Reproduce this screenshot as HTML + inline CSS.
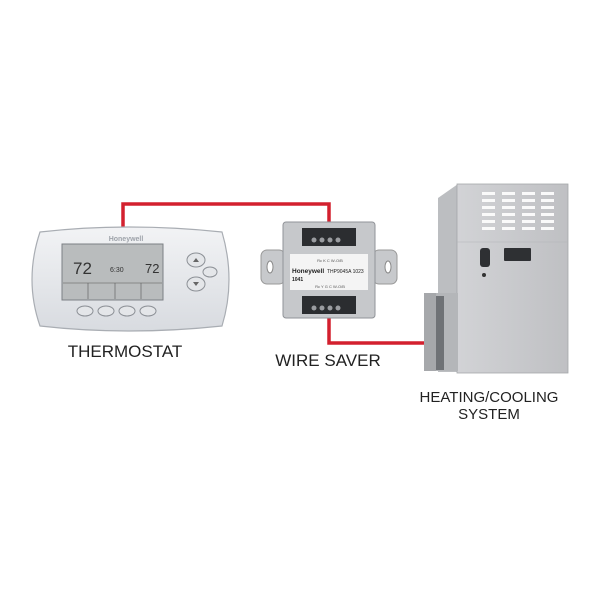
<!DOCTYPE html>
<html><head><style>
body{margin:0;background:#fff;}
svg{display:block}
text{font-family:"Liberation Sans",sans-serif;}
</style></head><body>
<svg width="600" height="600" viewBox="0 0 600 600" xmlns="http://www.w3.org/2000/svg">
<defs>
<linearGradient id="tb" x1="0" y1="0" x2="0" y2="1"><stop offset="0" stop-color="#f2f3f5"/><stop offset="1" stop-color="#d8dbe0"/></linearGradient>
<linearGradient id="fr" x1="0" y1="0" x2="1" y2="0"><stop offset="0" stop-color="#d2d3d6"/><stop offset="1" stop-color="#bfc0c3"/></linearGradient>
</defs>
<polyline points="123,230 123,204 329,204 329,228" fill="none" stroke="#d3202e" stroke-width="3.5"/>
<polyline points="329,316 329,343 436,343" fill="none" stroke="#d3202e" stroke-width="3.5"/>

<path d="M40,232 Q128,222 222,232 Q236,280 222,326 Q128,336 40,326 Q24,280 40,232Z" fill="url(#tb)" stroke="#a9adb3" stroke-width="1.2"/>
<text x="126" y="241" font-size="7" font-weight="bold" fill="#9ea3aa" text-anchor="middle">Honeywell</text>
<rect x="62" y="244" width="101" height="56" fill="#b9bcbd" stroke="#7c8085"/>
<text x="73" y="274" font-size="17" fill="#333">72</text>
<text x="110" y="272" font-size="7" fill="#333">6:30</text>
<text x="145" y="273" font-size="13" fill="#333">72</text>
<line x1="63" y1="283" x2="162" y2="283" stroke="#555" stroke-width="0.6"/>
<line x1="88" y1="283" x2="88" y2="299" stroke="#555" stroke-width="0.6"/>
<line x1="115" y1="283" x2="115" y2="299" stroke="#555" stroke-width="0.6"/>
<line x1="141" y1="283" x2="141" y2="299" stroke="#555" stroke-width="0.6"/>
<g fill="#e4e6e9" stroke="#8c9096">
<ellipse cx="85" cy="311" rx="8" ry="5"/><ellipse cx="106" cy="311" rx="8" ry="5"/><ellipse cx="127" cy="311" rx="8" ry="5"/><ellipse cx="148" cy="311" rx="8" ry="5"/>
<ellipse cx="196" cy="260" rx="9" ry="7"/><ellipse cx="196" cy="284" rx="9" ry="7"/><ellipse cx="210" cy="272" rx="7" ry="5"/>
</g>
<path d="M193,262 L196,258 L199,262Z M193,282 L196,286 L199,282Z" fill="#666"/>
<text x="125" y="357" font-size="17" fill="#222" text-anchor="middle">THERMOSTAT</text>

<rect x="261" y="250" width="24" height="34" rx="6" fill="#c7c9cc" stroke="#999"/>
<rect x="373" y="250" width="24" height="34" rx="6" fill="#c7c9cc" stroke="#999"/>
<ellipse cx="270" cy="267" rx="3" ry="6" fill="#fff" stroke="#888"/>
<ellipse cx="388" cy="267" rx="3" ry="6" fill="#fff" stroke="#888"/>
<rect x="283" y="222" width="92" height="96" rx="3" fill="#c6c8cb" stroke="#909398"/>
<rect x="302" y="228" width="54" height="18" fill="#2b2d30"/>
<rect x="302" y="296" width="54" height="18" fill="#2b2d30"/>
<g fill="#9a9ca0"><circle cx="314" cy="240" r="2.5"/><circle cx="322" cy="240" r="2.5"/><circle cx="330" cy="240" r="2.5"/><circle cx="338" cy="240" r="2.5"/>
<circle cx="314" cy="308" r="2.5"/><circle cx="322" cy="308" r="2.5"/><circle cx="330" cy="308" r="2.5"/><circle cx="338" cy="308" r="2.5"/></g>
<rect x="290" y="254" width="78" height="36" fill="#f4f4f4"/>
<text x="292" y="273" font-size="6.5" font-weight="bold" fill="#222">Honeywell</text>
<text x="327" y="273" font-size="5" fill="#222">THP9045A 1023</text>
<text x="292" y="281" font-size="5" font-weight="bold" fill="#222">1041</text>
<text x="330" y="262" font-size="4" fill="#555" text-anchor="middle">Rc  K  C  W-O/B</text>
<text x="330" y="288" font-size="4" fill="#555" text-anchor="middle">Rc  Y  G  C  W-O/B</text>
<text x="328" y="366" font-size="17" fill="#222" text-anchor="middle">WIRE SAVER</text>

<path d="M438,198 L458,184 L458,372 L438,372Z" fill="#bcbec1"/>
<rect x="457" y="184" width="111" height="189" fill="url(#fr)" stroke="#a5a7aa" stroke-width="0.8"/>
<line x1="457" y1="242" x2="568" y2="242" stroke="#b2b4b7" stroke-width="0.6"/>
<g fill="#fafafa">
<rect x="482" y="192" width="13" height="3"/><rect x="482" y="199" width="13" height="3"/><rect x="482" y="206" width="13" height="3"/><rect x="482" y="213" width="13" height="3"/><rect x="482" y="220" width="13" height="3"/><rect x="482" y="227" width="13" height="3"/>
<rect x="502" y="192" width="13" height="3"/><rect x="502" y="199" width="13" height="3"/><rect x="502" y="206" width="13" height="3"/><rect x="502" y="213" width="13" height="3"/><rect x="502" y="220" width="13" height="3"/><rect x="502" y="227" width="13" height="3"/>
<rect x="522" y="192" width="13" height="3"/><rect x="522" y="199" width="13" height="3"/><rect x="522" y="206" width="13" height="3"/><rect x="522" y="213" width="13" height="3"/><rect x="522" y="220" width="13" height="3"/><rect x="522" y="227" width="13" height="3"/>
<rect x="541" y="192" width="13" height="3"/><rect x="541" y="199" width="13" height="3"/><rect x="541" y="206" width="13" height="3"/><rect x="541" y="213" width="13" height="3"/><rect x="541" y="220" width="13" height="3"/><rect x="541" y="227" width="13" height="3"/>
</g>
<rect x="480" y="248" width="10" height="19" rx="3" fill="#2e3033"/>
<rect x="504" y="248" width="27" height="13" rx="1" fill="#2e3033"/>
<circle cx="484" cy="275" r="2" fill="#333"/>
<rect x="424" y="293" width="34" height="78" fill="#b4b6b9"/>
<rect x="436" y="296" width="8" height="74" fill="#6f7276"/>
<rect x="424" y="293" width="12" height="78" fill="#a6a8ab"/>
<text x="489" y="402" font-size="15" fill="#222" text-anchor="middle">HEATING/COOLING</text>
<text x="489" y="419" font-size="15" fill="#222" text-anchor="middle">SYSTEM</text>
</svg>
</body></html>
